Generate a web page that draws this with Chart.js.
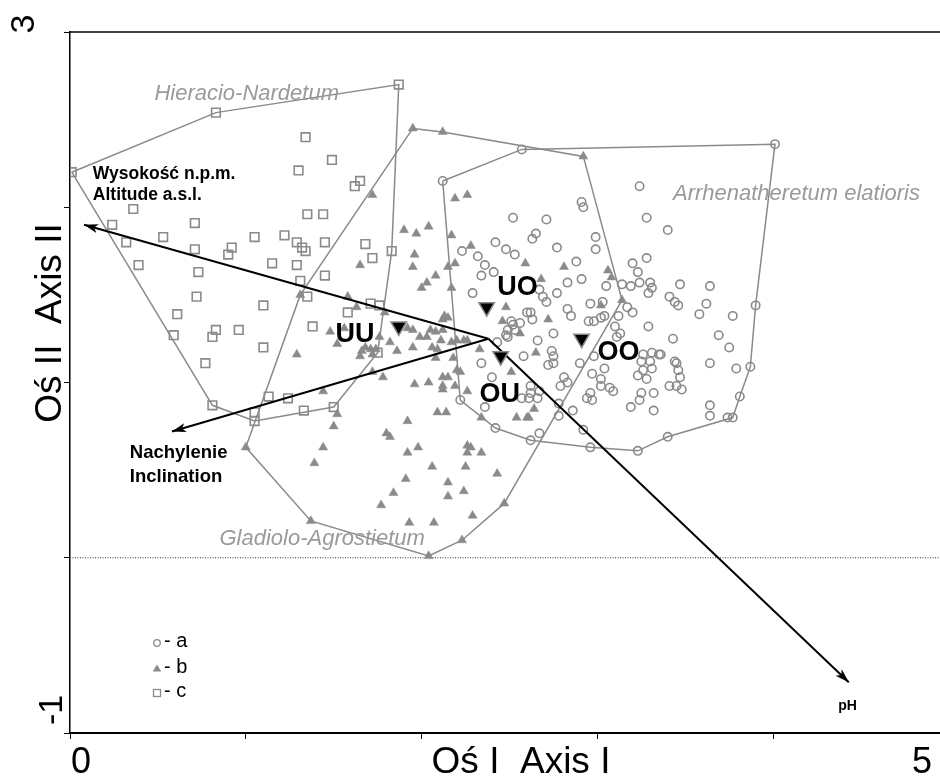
<!DOCTYPE html>
<html lang="pl">
<head>
<meta charset="UTF-8">
<title>Ordination diagram</title>
<script src="https://cdn.jsdelivr.net/npm/chart.js"></script>
<style>
  html, body { margin: 0; padding: 0; background: #fff; overflow: hidden; }
  #wrap { width: 940px; height: 778px; overflow: hidden; }
</style>
</head>
<body>
<div id="wrap"><canvas id="ordination" width="960" height="778"></canvas></div>
<script>
// --- data (axis I, axis II scores) ---
// a: Arrhenatheretum elatioris (circles)
const hullA = [[2.12,2.15],[2.57,2.33],[4.01,2.36],[3.90,1.44],[3.87,1.09],[3.81,0.92],[3.77,0.80],
  [3.40,0.69],[3.23,0.61],[2.96,0.63],[2.62,0.67],[2.42,0.74],[2.22,0.90]];
const innerA = [[3.24,2.12],[2.91,2.03],[2.92,2.00],[2.52,1.94],[2.71,1.93],[3.28,1.94],[3.40,1.87],
  [2.65,1.85],[2.63,1.82],[2.42,1.80],[2.77,1.77],[2.99,1.83],[2.99,1.76],[2.23,1.75],[2.48,1.76],
  [2.53,1.73],[2.32,1.72],[3.28,1.71],[2.88,1.69],[2.36,1.67],[3.20,1.68],[3.23,1.63],[2.34,1.61],
  [2.41,1.63],[2.83,1.57],[2.91,1.59],[3.24,1.57],[3.05,1.55],[3.14,1.56],[3.19,1.55],[3.30,1.57],
  [3.31,1.54],[3.29,1.51],[3.41,1.49],[2.29,1.51],[2.77,1.51],[2.67,1.53],[2.69,1.49],[2.71,1.46],
  [2.96,1.45],[3.03,1.46],[3.17,1.43],[3.20,1.40],[2.83,1.42],[2.85,1.38],[2.60,1.40],[2.62,1.40],
  [3.47,1.56],[3.46,1.44],[2.63,1.36],[2.51,1.35],[2.52,1.33],[2.56,1.34],[2.49,1.30],[2.48,1.27],
  [2.95,1.35],[2.98,1.35],[3.02,1.37],[3.04,1.38],[3.12,1.38],[3.10,1.32],[3.29,1.32],[3.44,1.46],
  [2.75,1.28],[3.13,1.28],[3.11,1.26],[2.66,1.24],[2.43,1.23],[2.58,1.15],[2.74,1.18],[2.75,1.15],
  [2.75,1.11],[2.72,1.10],[2.90,1.11],[2.34,1.11],[2.98,1.15],[3.43,1.25],[3.26,1.16],[3.31,1.17],
  [3.35,1.16],[3.25,1.12],[3.30,1.12],[3.26,1.07],[3.31,1.08],[3.23,1.04],[3.28,1.02],[3.44,1.12],
  [3.46,1.07],[3.04,1.08],[2.97,1.05],[2.81,1.03],[2.83,1.00],[3.02,1.02],[3.02,0.98],[3.07,0.97],
  [3.09,0.95],[3.41,0.98],[3.45,0.98],[2.79,0.98],[2.67,0.95],[2.62,0.98],[2.62,0.94],[2.57,0.91],
  [2.61,0.91],[2.40,1.03],[2.36,0.86],[2.96,0.94],[2.94,0.91],[2.97,0.90],[2.78,0.88],[2.66,0.91],
  [2.86,0.84],[3.25,0.94],[3.24,0.90],[3.32,0.94],[3.19,0.86],[3.32,0.84],[2.67,0.71],[2.78,0.81],
  [2.92,0.73],[3.64,1.55],[3.62,1.45],[3.58,1.39],[3.77,1.38],[3.69,1.27],[3.75,1.20],[3.36,1.16],
  [3.45,1.11],[3.47,1.03],[3.48,0.96],[3.64,1.11],[3.79,1.08],[3.64,0.87],[3.64,0.81],[3.74,0.80],
  [2.49,1.26],[2.53,1.30]];

// b: Gladiolo-Agrostietum (triangles)
const hullB = [[1.95,2.45],[2.12,2.43],[2.92,2.29],[3.14,1.47],[2.47,0.31],[2.23,0.10],[2.04,0.01],
  [1.37,0.21],[1.00,0.63],[1.31,1.50]];
const innerB = [[1.72,2.07],[1.90,1.87],[1.97,1.85],[2.04,1.89],[2.17,1.84],[2.19,2.05],[2.26,2.07],
  [1.96,1.73],[1.65,1.67],[1.95,1.66],[2.15,1.66],[2.19,1.68],[2.28,1.78],[2.59,1.68],[2.81,1.66],
  [3.06,1.64],[2.08,1.61],[2.03,1.57],[2.00,1.54],[2.17,1.54],[2.68,1.59],[3.08,1.60],[2.48,1.43],
  [3.02,1.44],[2.13,1.38],[2.72,1.36],[2.46,1.35],[2.56,1.28],[2.05,1.30],[2.08,1.29],[2.11,1.24],
  [2.03,1.26],[2.20,1.24],[2.26,1.24],[2.33,1.19],[2.09,1.19],[2.18,1.14],[2.20,1.07],[2.12,1.03],
  [2.04,1.00],[2.15,1.03],[2.12,0.96],[2.19,0.98],[2.26,0.95],[2.09,0.83],[2.14,0.83],[2.28,0.63],
  [2.34,0.60],[2.26,0.60],[2.06,0.52],[2.25,0.52],[2.51,1.06],[2.65,1.17],[2.64,0.85],[2.60,0.80],
  [2.54,0.80],[2.34,0.80],[1.58,1.49],[1.63,1.43],[1.79,1.40],[1.48,1.29],[1.52,1.22],[1.56,1.31],
  [1.76,1.26],[1.82,1.23],[1.86,1.18],[1.68,1.20],[1.66,1.18],[1.65,1.15],[1.71,1.19],[1.72,1.16],
  [1.74,1.19],[1.92,1.31],[1.95,1.30],[2.12,1.36],[2.15,1.37],[2.12,1.30],[1.95,1.20],[1.99,1.26],
  [2.06,1.20],[2.08,1.14],[2.17,1.23],[2.24,1.24],[1.29,1.16],[1.72,1.06],[1.78,1.03],[1.96,0.99],
  [2.12,0.98],[2.22,1.06],[1.92,0.78],[1.80,0.71],[1.82,0.69],[1.52,0.82],[1.50,0.75],[1.44,0.63],
  [1.39,0.54],[1.44,0.95],[1.92,0.60],[1.98,0.63],[2.26,0.64],[2.43,0.48],[1.91,0.45],[2.15,0.43],
  [1.84,0.37],[2.15,0.35],[2.24,0.38],[1.77,0.30],[2.29,0.24],[1.93,0.20],[2.07,0.20],[2.61,0.80]];

// c: Hieracio-Nardetum (squares)
const hullC = [[0.01,2.20],[0.83,2.54],[1.87,2.70],[1.83,1.75],[1.75,1.17],[1.50,0.86],[1.05,0.78],[0.81,0.87]];
const innerC = [[1.34,2.40],[1.49,2.27],[1.30,2.21],[1.65,2.15],[1.62,2.12],[0.36,1.99],[0.24,1.90],
  [0.71,1.91],[1.35,1.96],[1.44,1.96],[0.53,1.83],[1.05,1.83],[1.22,1.84],[1.29,1.80],[1.32,1.77],
  [1.34,1.75],[1.45,1.80],[0.32,1.80],[0.71,1.76],[0.92,1.77],[0.90,1.73],[1.68,1.79],[1.72,1.71],
  [0.39,1.67],[0.73,1.63],[1.15,1.68],[1.29,1.67],[1.45,1.61],[1.31,1.58],[0.72,1.49],[1.35,1.49],
  [1.10,1.44],[0.61,1.39],[1.58,1.40],[1.71,1.45],[1.76,1.44],[0.83,1.30],[0.81,1.26],[0.96,1.30],
  [1.38,1.32],[0.59,1.27],[1.10,1.20],[0.77,1.11],[1.13,0.92],[1.24,0.91],[1.05,0.83],[1.33,0.84]];

// group centroids
const groupNames = ['UU', 'UO', 'OU', 'OO'];
const groupX = [1.87, 2.37, 2.45, 2.91];
const groupY = [1.32, 1.43, 1.15, 1.25];
const groupLabelAt = [[1.51, 1.23], [2.43, 1.50], [2.33, 0.89], [3.00, 1.13]];

// environmental vectors
const vectorOrigin = [2.38, 1.25];
const vectorEnds = [[0.08, 1.90], [0.58, 0.72], [4.43, -0.71]];
const vectorNames = [['Wysokość n.p.m.', 'Altitude a.s.l.'], ['Nachylenie', 'Inclination'], ['pH']];
const vectorLabelAt = [[0.13, 2.16], [0.34, 0.57], [4.37, -0.87]];

// community names
const communityNames = ['Hieracio-Nardetum', 'Arrhenatheretum elatioris', 'Gladiolo-Agrostietum'];
const communityLabelAt = [[0.48, 2.61], [3.43, 2.04], [0.85, 0.07]];

const legendNames = ['a', 'b', 'c'];

// --- drawing ---
const GREY = '#8a8a8a';
const FONT = '"Liberation Sans", Arial, sans-serif';

const toXY = arr => arr.map(p => ({ x: p[0], y: p[1] }));
const closed = arr => toXY(arr.concat([arr[0]]));

function arrowHead(ctx, x0, y0, x1, y1) {
    const a = Math.atan2(y1 - y0, x1 - x0);
    const len = 14, half = 4.5;
    ctx.beginPath();
    ctx.moveTo(x1, y1);
    ctx.lineTo(x1 - len * Math.cos(a) + half * Math.sin(a), y1 - len * Math.sin(a) - half * Math.cos(a));
    ctx.lineTo(x1 - len * 0.75 * Math.cos(a), y1 - len * 0.75 * Math.sin(a));
    ctx.lineTo(x1 - len * Math.cos(a) - half * Math.sin(a), y1 - len * Math.sin(a) + half * Math.cos(a));
    ctx.closePath();
    ctx.fill();
}

const overlay = {
    id: 'overlay',
    beforeDatasetsDraw(chart) {
        const { ctx, chartArea, scales: { x, y } } = chart;
        ctx.save();
        // frame top line
        ctx.strokeStyle = '#000';
        ctx.lineWidth = 1.5;
        ctx.beginPath();
        ctx.moveTo(chartArea.left, chartArea.top);
        ctx.lineTo(chartArea.right, chartArea.top);
        ctx.stroke();
        // dotted zero line
        ctx.strokeStyle = '#333';
        ctx.lineWidth = 1;
        ctx.setLineDash([1, 1.5]);
        ctx.beginPath();
        ctx.moveTo(chartArea.left, y.getPixelForValue(0));
        ctx.lineTo(chartArea.right, y.getPixelForValue(0));
        ctx.stroke();
        ctx.restore();
    },
    afterDatasetDraw(chart, args) {
        if (args.index !== 1) return; // arrows go under the centroid markers
        const { ctx, scales: { x, y } } = chart;
        const ox = x.getPixelForValue(vectorOrigin[0]);
        const oy = y.getPixelForValue(vectorOrigin[1]);
        ctx.save();
        ctx.strokeStyle = '#000';
        ctx.fillStyle = '#000';
        ctx.lineWidth = 2;
        vectorEnds.forEach(e => {
            const ex = x.getPixelForValue(e[0]);
            const ey = y.getPixelForValue(e[1]);
            ctx.beginPath();
            ctx.moveTo(ox, oy);
            ctx.lineTo(ex, ey);
            ctx.stroke();
            arrowHead(ctx, ox, oy, ex, ey);
        });
        ctx.restore();
    },
    afterDraw(chart) {
        const { ctx, scales: { x, y } } = chart;
        ctx.save();
        ctx.textBaseline = 'alphabetic';

        // community names
        ctx.fillStyle = '#9a9a9a';
        ctx.font = 'italic 22px ' + FONT;
        ctx.textAlign = 'left';
        communityNames.forEach((t, i) => {
            ctx.fillText(t, x.getPixelForValue(communityLabelAt[i][0]), y.getPixelForValue(communityLabelAt[i][1]));
        });

        // vector names
        ctx.fillStyle = '#000';
        const vecFont = ['bold 17.5px ', 'bold 18.5px ', 'bold 14px '];
        vectorNames.forEach((lines, i) => {
            ctx.font = vecFont[i] + FONT;
            const lx = x.getPixelForValue(vectorLabelAt[i][0]);
            const ly = y.getPixelForValue(vectorLabelAt[i][1]);
            lines.forEach((t, j) => ctx.fillText(t, lx, ly + j * (i === 0 ? 21 : 24)));
        });

        // group names
        ctx.font = 'bold 27px ' + FONT;
        groupNames.forEach((t, i) => {
            ctx.fillText(t, x.getPixelForValue(groupLabelAt[i][0]), y.getPixelForValue(groupLabelAt[i][1]));
        });

        // legend
        const lgX = 157, lgY = [643, 669, 693];
        ctx.strokeStyle = GREY;
        ctx.fillStyle = GREY;
        ctx.lineWidth = 1.3;
        ctx.beginPath(); ctx.arc(lgX, lgY[0], 3.3, 0, Math.PI * 2); ctx.stroke();
        ctx.beginPath();
        ctx.moveTo(lgX, lgY[1] - 4.5); ctx.lineTo(lgX + 4.2, lgY[1] + 2.5); ctx.lineTo(lgX - 4.2, lgY[1] + 2.5);
        ctx.closePath(); ctx.fill();
        ctx.strokeRect(lgX - 3.5, lgY[2] - 3.5, 7, 7);
        ctx.fillStyle = '#000';
        ctx.font = '20px ' + FONT;
        legendNames.forEach((t, i) => ctx.fillText('- ' + t, 164, lgY[i] + 4));

        // axis labels
        ctx.font = '36px ' + FONT;
        ctx.fillText('0', x.getPixelForValue(0) + 1, 773);
        ctx.fillText('5', x.getPixelForValue(5) - 37, 773);
        ctx.textAlign = 'center';
        ctx.font = '37px ' + FONT;
        ctx.fillText('Oś I  Axis I', 521, 773);

        const rot = (t, cx, cy, size) => {
            ctx.save();
            ctx.translate(cx, cy);
            ctx.rotate(-Math.PI / 2);
            ctx.font = size + 'px ' + FONT;
            ctx.textAlign = 'center';
            ctx.fillText(t, 0, 0);
            ctx.restore();
        };
        rot('3', 34, y.getPixelForValue(3) - 8, 34);
        rot('-1', 62, y.getPixelForValue(-1) - 23, 34);
        rot('Oś II  Axis II', 61, 323, 37);
        ctx.restore();
    }
};

new Chart(document.getElementById('ordination'), {
    type: 'scatter',
    data: {
        datasets: [
            {
                label: 'centroids',
                data: groupX.map((v, i) => ({ x: v, y: groupY[i] })),
                pointStyle: 'triangle',
                rotation: 180,
                pointRadius: 9,
                backgroundColor: '#000',
                borderColor: '#8a8a8a',
                borderWidth: 1.5
            },
            {
                label: 'a',
                data: toXY(hullA.concat(innerA)),
                pointStyle: 'circle',
                pointRadius: 4.2,
                backgroundColor: 'rgba(255,255,255,0)',
                borderColor: GREY,
                borderWidth: 1.6
            },
            {
                label: 'b',
                data: toXY(hullB.concat(innerB)),
                pointStyle: 'triangle',
                pointRadius: 5.2,
                backgroundColor: GREY,
                borderColor: GREY,
                borderWidth: 0.5
            },
            {
                label: 'c',
                data: toXY(hullC.concat(innerC)),
                pointStyle: 'rect',
                pointRadius: 6.1,
                backgroundColor: 'rgba(255,255,255,0)',
                borderColor: GREY,
                borderWidth: 1.6
            },
            { label: 'hull a', data: closed(hullA), showLine: true, pointRadius: 0, borderColor: GREY, borderWidth: 1.5 },
            { label: 'hull b', data: closed(hullB), showLine: true, pointRadius: 0, borderColor: GREY, borderWidth: 1.5 },
            { label: 'hull c', data: closed(hullC), showLine: true, pointRadius: 0, borderColor: GREY, borderWidth: 1.5 }
        ]
    },
    options: {
        responsive: false,
        animation: false,
        events: [],
        layout: { padding: { top: 32, right: 11, left: 0, bottom: 0 } },
        plugins: { legend: { display: false }, tooltip: { enabled: false } },
        scales: {
            x: {
                type: 'linear', min: 0, max: 5,
                ticks: { stepSize: 1, display: false },
                grid: { drawOnChartArea: false, tickLength: 6, color: '#000' },
                border: { color: '#000', width: 2 },
                afterFit: s => { s.height = 45; }
            },
            y: {
                type: 'linear', min: -1, max: 3,
                ticks: { stepSize: 1, display: false },
                grid: { drawOnChartArea: false, tickLength: 6, color: '#000' },
                border: { color: '#000', width: 1.5 },
                afterFit: s => { s.width = 70; }
            }
        }
    },
    plugins: [overlay]
});
</script>
</body>
</html>
